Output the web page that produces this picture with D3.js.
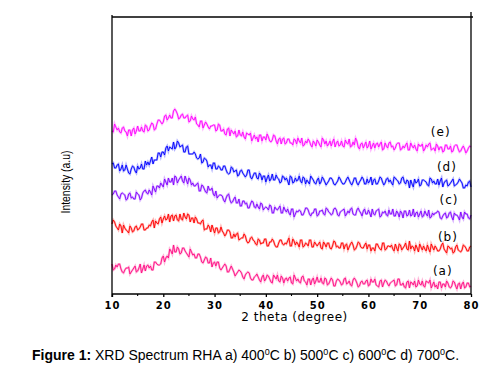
<!DOCTYPE html>
<html>
<head>
<style>
body { margin: 0; background: #fff; }
text { fill: #000; }
</style>
</head>
<body>
<svg width="499" height="367"></svg>
<script src="https://d3js.org/d3.v7.min.js"></script>
<script>

// 2 theta grid, 10 to 80 degree in 0.5 steps (141 points)
let twoTheta = d3.range(10, 80.01, 0.5);

let xTicks = [10, 20, 30, 40, 50, 60, 70, 80];
let xMinorTicks = [15, 25, 35, 45, 55, 65, 75];

let labels = ['(a)', '(b)', '(c)', '(d)', '(e)'];
let colors = ['#ff0a82', '#ff0000', '#8000ff', '#0000ff', '#ff00ff'];

// intensities (a.u), on the 0.5 degree grid
let serA = [
    29, 24, 26, 29, 21, 23, 25, 19, 23, 27,
    22, 29, 24, 22, 28, 27, 23, 31, 28, 29,
    37, 35, 35, 42, 48, 41, 44, 40, 45, 40,
    36, 41, 39, 35, 39, 31, 33, 35, 30, 26,
    31, 31, 25, 25, 29, 21, 24, 24, 17, 21,
    22, 16, 18, 21, 15, 13, 17, 16, 11, 18,
    14, 17, 11, 18, 14, 12, 17, 10, 15, 15,
    10, 18, 12, 11, 16, 12, 8, 14, 13, 9,
    16, 11, 10, 15, 8, 12, 13, 7, 14, 11,
    9, 15, 10, 8, 13, 13, 6, 11, 9, 12,
    7, 14, 11, 8, 6, 13, 10, 12, 7, 11,
    13, 8, 14, 8, 6, 11, 5, 10, 12, 7,
    9, 12, 6, 11, 13, 8, 6, 4, 11, 9,
    6, 10, 5, 12, 7, 9, 4, 11, 6, 10,
    7
];
let serB = [
    69, 71, 65, 69, 60, 65, 62, 67, 61, 66,
    63, 66, 69, 63, 65, 67, 73, 72, 69, 76,
    74, 73, 79, 77, 72, 78, 72, 74, 80, 74,
    78, 75, 70, 74, 70, 72, 63, 64, 66, 68,
    60, 65, 61, 62, 57, 63, 61, 55, 56, 60,
    54, 55, 57, 50, 55, 53, 49, 54, 49, 50,
    54, 47, 51, 52, 46, 50, 53, 48, 49, 55,
    47, 52, 51, 46, 53, 47, 49, 53, 46, 51,
    47, 51, 44, 49, 50, 45, 47, 51, 47, 45,
    50, 48, 43, 49, 48, 44, 51, 46, 45, 50,
    48, 42, 45, 49, 46, 43, 50, 44, 47, 48,
    42, 45, 49, 43, 47, 44, 52, 47, 42, 45,
    49, 43, 44, 48, 41, 46, 47, 42, 44, 50,
    42, 47, 44, 40, 46, 43, 41, 48, 45, 42,
    47
];
let serC = [
    98, 102, 98, 94, 100, 98, 94, 100, 96, 94,
    99, 93, 100, 103, 99, 101, 107, 101, 107, 110,
    106, 111, 115, 111, 108, 116, 113, 117, 110, 113,
    115, 108, 107, 109, 102, 108, 104, 100, 103, 105,
    97, 95, 98, 97, 91, 98, 93, 91, 96, 90,
    87, 92, 89, 85, 89, 91, 85, 86, 90, 83,
    86, 83, 87, 80, 84, 85, 80, 86, 81, 80,
    84, 76, 82, 83, 78, 81, 85, 79, 80, 84,
    77, 82, 83, 78, 84, 80, 79, 85, 78, 81,
    83, 77, 82, 84, 79, 78, 85, 80, 82, 79,
    83, 76, 79, 82, 84, 77, 80, 78, 83, 79,
    77, 82, 76, 80, 82, 77, 83, 78, 76, 81,
    79, 76, 82, 77, 75, 80, 80, 82, 75, 77,
    80, 76, 81, 73, 78, 76, 81, 74, 79, 75,
    78
];
let serD = [
    129, 125, 128, 122, 128, 123, 124, 119, 127, 122,
    127, 125, 124, 132, 131, 132, 129, 133, 140, 136,
    141, 145, 142, 145, 151, 146, 150, 147, 141, 146,
    139, 139, 141, 135, 135, 130, 135, 132, 128, 124,
    130, 124, 126, 123, 127, 120, 120, 125, 122, 117,
    122, 120, 116, 123, 116, 117, 120, 114, 118, 117,
    111, 118, 114, 113, 118, 114, 111, 116, 115, 108,
    116, 111, 112, 117, 110, 115, 113, 109, 115, 110,
    113, 109, 116, 111, 110, 115, 113, 108, 112, 114,
    109, 111, 116, 110, 111, 115, 108, 113, 114, 109,
    110, 116, 113, 109, 112, 115, 108, 114, 111, 110,
    116, 113, 109, 115, 111, 113, 105, 109, 114, 111,
    107, 113, 112, 108, 115, 110, 109, 114, 112, 106,
    112, 107, 110, 114, 108, 111, 112, 105, 108, 111,
    106
];
let serE = [
    162, 169, 163, 161, 165, 162, 157, 163, 163, 159,
    167, 162, 162, 168, 162, 167, 169, 164, 173, 171,
    171, 178, 175, 175, 182, 182, 174, 178, 175, 177,
    171, 177, 173, 169, 166, 172, 168, 169, 164, 167,
    168, 163, 168, 162, 159, 164, 157, 161, 162, 157,
    158, 161, 154, 159, 160, 155, 154, 151, 158, 156,
    153, 156, 151, 158, 152, 154, 149, 155, 150, 154,
    150, 154, 149, 152, 155, 148, 150, 152, 146, 150,
    153, 148, 155, 149, 147, 152, 151, 146, 152, 148,
    147, 153, 149, 146, 151, 155, 146, 149, 145, 151,
    147, 144, 150, 149, 146, 151, 144, 147, 150, 146,
    143, 149, 150, 144, 145, 150, 143, 147, 148, 142,
    147, 149, 144, 146, 150, 144, 142, 147, 146, 141,
    148, 144, 147, 142, 148, 144, 142, 147, 140, 145,
    146
];

// readings a quarter degree after each grid point (140 points)
let serAq = [
    23, 28, 29, 24, 20, 25, 26, 21, 25, 21,
    25, 20, 28, 27, 25, 23, 31, 29, 28, 35,
    31, 37, 44, 39, 41, 46, 39, 45, 42, 38,
    44, 38, 35, 39, 36, 30, 36, 30, 35, 30,
    27, 31, 23, 27, 27, 21, 27, 21, 19, 23,
    20, 14, 20, 20, 13, 16, 19, 13, 16, 12,
    18, 14, 10, 16, 18, 11, 15, 14, 12, 16,
    9, 15, 14, 10, 17, 11, 14, 8, 15, 12,
    11, 15, 9, 14, 9, 15, 7, 12, 13, 8,
    14, 9, 12, 7, 15, 10, 7, 12, 9, 13,
    8, 11, 14, 7, 12, 6, 13, 9, 10, 12,
    7, 14, 8, 10, 5, 12, 11, 8, 6, 13,
    8, 7, 12, 10, 5, 11, 8, 11, 5, 9,
    12, 6, 7, 11, 4, 10, 9, 5, 10, 6
];
let serBq = [
    73, 67, 63, 67, 68, 63, 60, 65, 62, 67,
    64, 69, 63, 65, 68, 71, 65, 70, 74, 70,
    77, 74, 71, 78, 77, 73, 79, 73, 76, 79,
    71, 75, 76, 70, 69, 73, 64, 68, 61, 64,
    65, 60, 66, 60, 59, 63, 55, 59, 59, 53,
    55, 59, 52, 51, 56, 52, 48, 53, 50, 54,
    47, 51, 54, 48, 46, 53, 49, 50, 52, 47,
    54, 48, 49, 53, 46, 50, 47, 53, 46, 49,
    49, 45, 51, 46, 50, 44, 52, 46, 45, 50,
    44, 49, 46, 51, 43, 47, 50, 45, 48, 44,
    48, 45, 42, 49, 44, 50, 43, 47, 46, 44,
    49, 42, 48, 45, 50, 43, 44, 46, 48, 41,
    46, 47, 42, 44, 49, 43, 45, 42, 48, 44,
    40, 46, 45, 41, 48, 42, 43, 47, 42, 46
];
let serCq = [
    99, 102, 96, 99, 99, 93, 99, 95, 94, 101,
    98, 95, 102, 100, 103, 98, 104, 107, 105, 108,
    114, 108, 111, 115, 117, 110, 115, 112, 117, 109,
    113, 110, 107, 110, 102, 107, 101, 107, 103, 99,
    102, 97, 98, 93, 95, 99, 90, 94, 90, 94,
    87, 92, 90, 85, 92, 86, 89, 84, 89, 85,
    85, 88, 80, 86, 83, 87, 80, 83, 84, 78,
    84, 79, 81, 82, 78, 85, 83, 77, 80, 84,
    78, 82, 79, 85, 81, 78, 84, 83, 77, 82,
    84, 79, 80, 85, 78, 83, 82, 77, 84, 79,
    80, 84, 78, 83, 76, 81, 82, 77, 79, 84,
    77, 80, 82, 75, 82, 78, 77, 84, 80, 76,
    82, 77, 79, 83, 76, 78, 80, 81, 74, 79,
    75, 80, 76, 80, 78, 73, 76, 81, 79, 74
];
let serDq = [
    130, 125, 129, 124, 122, 128, 120, 124, 126, 120,
    124, 129, 124, 128, 128, 136, 133, 133, 140, 141,
    138, 147, 146, 144, 144, 152, 146, 148, 141, 147,
    139, 139, 139, 134, 139, 131, 134, 126, 128, 130,
    124, 127, 123, 127, 123, 119, 126, 121, 123, 118,
    123, 118, 118, 123, 114, 120, 115, 120, 113, 117,
    115, 112, 119, 113, 115, 110, 117, 113, 112, 117,
    110, 115, 113, 112, 116, 109, 111, 117, 113, 109,
    115, 111, 114, 108, 112, 115, 109, 110, 116, 111,
    109, 114, 113, 108, 115, 110, 111, 116, 109, 114,
    112, 108, 114, 109, 116, 111, 110, 115, 113, 108,
    115, 112, 110, 116, 109, 112, 113, 106, 110, 114,
    108, 113, 111, 107, 114, 112, 109, 108, 115, 110,
    113, 108, 112, 107, 109, 114, 110, 105, 107, 112
];
let serEq = [
    161, 166, 165, 160, 166, 161, 163, 157, 165, 162,
    162, 166, 161, 167, 163, 170, 163, 169, 173, 169,
    177, 173, 178, 175, 184, 179, 175, 179, 175, 178,
    172, 174, 176, 168, 172, 165, 171, 166, 167, 168,
    162, 169, 162, 164, 158, 165, 163, 159, 156, 163,
    157, 156, 160, 158, 152, 158, 156, 158, 152, 156,
    159, 152, 153, 157, 149, 155, 154, 149, 154, 150,
    148, 153, 155, 150, 147, 152, 154, 148, 152, 147,
    151, 146, 153, 152, 149, 147, 154, 150, 147, 152,
    146, 150, 154, 147, 148, 152, 144, 150, 148, 145,
    152, 147, 145, 150, 149, 143, 150, 145, 151, 147,
    145, 150, 143, 147, 148, 143, 150, 145, 144, 149,
    147, 142, 148, 149, 143, 145, 149, 143, 146, 142,
    148, 144, 141, 147, 148, 141, 145, 144, 142, 147
];

let series = [serA, serB, serC, serD, serE];
let seriesQ = [serAq, serBq, serCq, serDq, serEq];
// where each tag sits: angle and intensity
let labelX = [74.5, 75.5, 75.7, 75.3, 74.1];
let labelY = [18, 52, 89, 122, 157];

// one scan = grid readings and quarter readings in angle order
function scan(k) {
    let pts = [];
    twoTheta.forEach(function(t, i) {
        pts.push([t, series[k][i]]);
        if (i < seriesQ[k].length) pts.push([t + 0.25, seriesQ[k][i]]);
    });
    return pts;
}

let svg = d3.select('svg');
svg.append('rect').attr('width', 499).attr('height', 367).attr('fill', '#fff');

let x = d3.scaleLinear().domain([10, 80]).range([112, 471]);
let y = d3.scaleLinear().domain([-1, 276]).range([294, 17]);

let line = d3.line()
    .x(function(d) { return x(d[0]); })
    .y(function(d) { return y(d[1]); });

let g = svg.append('g');

series.forEach(function(s, k) {
    let pts = scan(k);
    g.append('path')
        .attr('d', line(pts))
        .attr('fill', 'none')
        .attr('stroke', colors[k])
        .attr('stroke-opacity', 0.3)
        .attr('stroke-width', 2.2);
    g.append('path')
        .attr('d', line(pts))
        .attr('fill', 'none')
        .attr('stroke', colors[k])
        .attr('stroke-width', 0.9);
});

// frame
svg.append('line').attr('x1', x(10)).attr('x2', x(80) + 2)
    .attr('y1', y(276)).attr('y2', y(276)).attr('stroke', '#000').attr('stroke-width', 1.3);
svg.append('line').attr('x1', x(80)).attr('x2', x(80))
    .attr('y1', y(276) - 5).attr('y2', y(-1)).attr('stroke', '#000').attr('stroke-width', 1.3);
svg.append('line').attr('x1', x(10)).attr('x2', x(10))
    .attr('y1', y(276) - 2).attr('y2', y(-1) + 3).attr('stroke', '#000').attr('stroke-width', 1.3);

let xAxis = d3.axisBottom(x).tickValues(xTicks).tickSize(3).tickPadding(5);
let ax = svg.append('g').attr('transform', 'translate(0,' + y(-1) + ')').call(xAxis);
ax.select('.domain').attr('stroke-width', 1.3).attr('d', 'M' + x(10) + ',0H' + x(80));
ax.selectAll('.tick line').attr('stroke-width', 1.3);
ax.selectAll('.tick text')
    .style('font-family', '"DejaVu Sans", sans-serif')
    .style('font-weight', 'bold')
    .style('font-size', '10px')
    .style('letter-spacing', '1px');

ax.selectAll('.minor').data(xMinorTicks).join('line')
    .attr('class', 'minor')
    .attr('x1', function(d) { return x(d); })
    .attr('x2', function(d) { return x(d); })
    .attr('y1', 0).attr('y2', 2)
    .attr('stroke', '#000').attr('stroke-width', 1.1);

svg.append('text')
    .attr('x', (x(10) + x(80)) / 2 + 3)
    .attr('y', 321)
    .attr('text-anchor', 'middle')
    .style('font-family', '"DejaVu Sans", sans-serif')
    .style('font-size', '12px')
    .style('letter-spacing', '0.5px')
    .text('2 theta (degree)');

svg.append('text')
    .attr('transform', 'translate(70,182) rotate(-90) scale(0.8,1)')
    .attr('text-anchor', 'middle')
    .style('font-family', '"Liberation Sans", sans-serif')
    .style('font-size', '13px')
    .text('Intensity (a.u)');

svg.selectAll('.tag').data(labels).join('text')
    .attr('class', 'tag')
    .attr('x', function(d, i) { return x(labelX[i]); })
    .attr('y', function(d, i) { return y(labelY[i]); })
    .attr('text-anchor', 'middle')
    .style('font-family', '"DejaVu Sans", sans-serif')
    .style('font-size', '12px')
    .style('letter-spacing', '1px')
    .text(function(d) { return d; });

// caption
let cap = svg.append('text')
    .attr('x', 32).attr('y', 360)
    .style('font-family', '"Liberation Sans", Arial, sans-serif')
    .style('font-size', '14px');
cap.append('tspan').style('font-weight', 'bold').text('Figure 1:');
let parts = [' XRD Spectrum RHA a) 400', 'C b) 500', 'C c) 600', 'C d) 700', 'C.'];
parts.forEach(function(p, i) {
    cap.append('tspan').attr('dy', i > 0 ? 5 : null).text(p);
    if (i < parts.length - 1) {
        cap.append('tspan').attr('dy', -5).style('font-size', '9px').text('0');
    }
});

</script>
</body>
</html>
